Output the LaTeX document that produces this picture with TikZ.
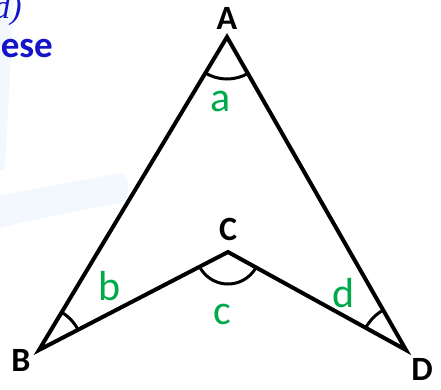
\documentclass[tikz,border=0pt]{standalone}
\usepackage{fontspec}
\setmainfont{Carlito}
\newfontfamily\serifit{Liberation Serif}
\usetikzlibrary{angles}
\definecolor{ink}{RGB}{0,0,0}
\definecolor{grn}{RGB}{0,170,75}
\definecolor{hdblue}{RGB}{20,20,200}
\definecolor{pale}{RGB}{242,248,253}
\tikzset{
  side/.style={line width=4pt, ink},
  vlabel/.style={font=\fontsize{34}{40}\selectfont\bfseries, text=ink, inner sep=0pt},
  glabel/.style={font=\fontsize{42}{48}\selectfont, text=grn, inner sep=0pt},
  anglearc/.style={draw, line width=3pt, ink},
}
\begin{document}
\begin{tikzpicture}[x=1pt,y=-1pt]
\useasboundingbox (0,0) rectangle (441,389);
\fill[white] (0,0) rectangle (441,389);
% pale background swoosh
\fill[pale] (0,195) .. controls (60,185) and (100,176) .. (122,173) .. controls (130,176) and (130,200) .. (122,203) .. controls (90,208) and (40,218) .. (0,228) -- cycle;
\fill[pale] (0,0) -- (14,0) -- (5,170) -- (0,170) -- cycle;
% header fragments
\node[anchor=east, font=\fontsize{34}{40}\selectfont\serifit\itshape, text=hdblue, inner sep=0pt] (hd1) at (22,10) {d)};
\node[anchor=east, font=\fontsize{37}{44}\selectfont\bfseries, text=hdblue, inner sep=0pt] (hd2) at (53,49) {ese};
% vertices
\coordinate (A) at (227,37);
\coordinate (B) at (39,350);
\coordinate (C) at (228,252);
\coordinate (D) at (406,350);
\draw[side, line join=miter] (A) -- (B) -- (C) -- (D) -- cycle;
% angle arcs
\pic[anglearc, angle radius=42pt] {angle = B--A--D};
\pic[anglearc, angle radius=44pt] {angle = C--B--A};
\pic[anglearc, angle radius=32pt] {angle = B--C--D};
\pic[anglearc, angle radius=46pt] {angle = A--D--C};
% vertex labels
\node[vlabel] (lA) at (227,18) {A};
\node[vlabel] (lB) at (21,360) {B};
\node[vlabel] (lC) at (228,229) {C};
\node[vlabel] (lD) at (422,369) {D};
% angle names
\node[glabel] (ga) at (221,101) {a};
\node[glabel] (gb) at (110,286) {b};
\node[glabel] (gc) at (222,314) {c};
\node[glabel] (gd) at (344,293) {d};
\end{tikzpicture}
\end{document}
